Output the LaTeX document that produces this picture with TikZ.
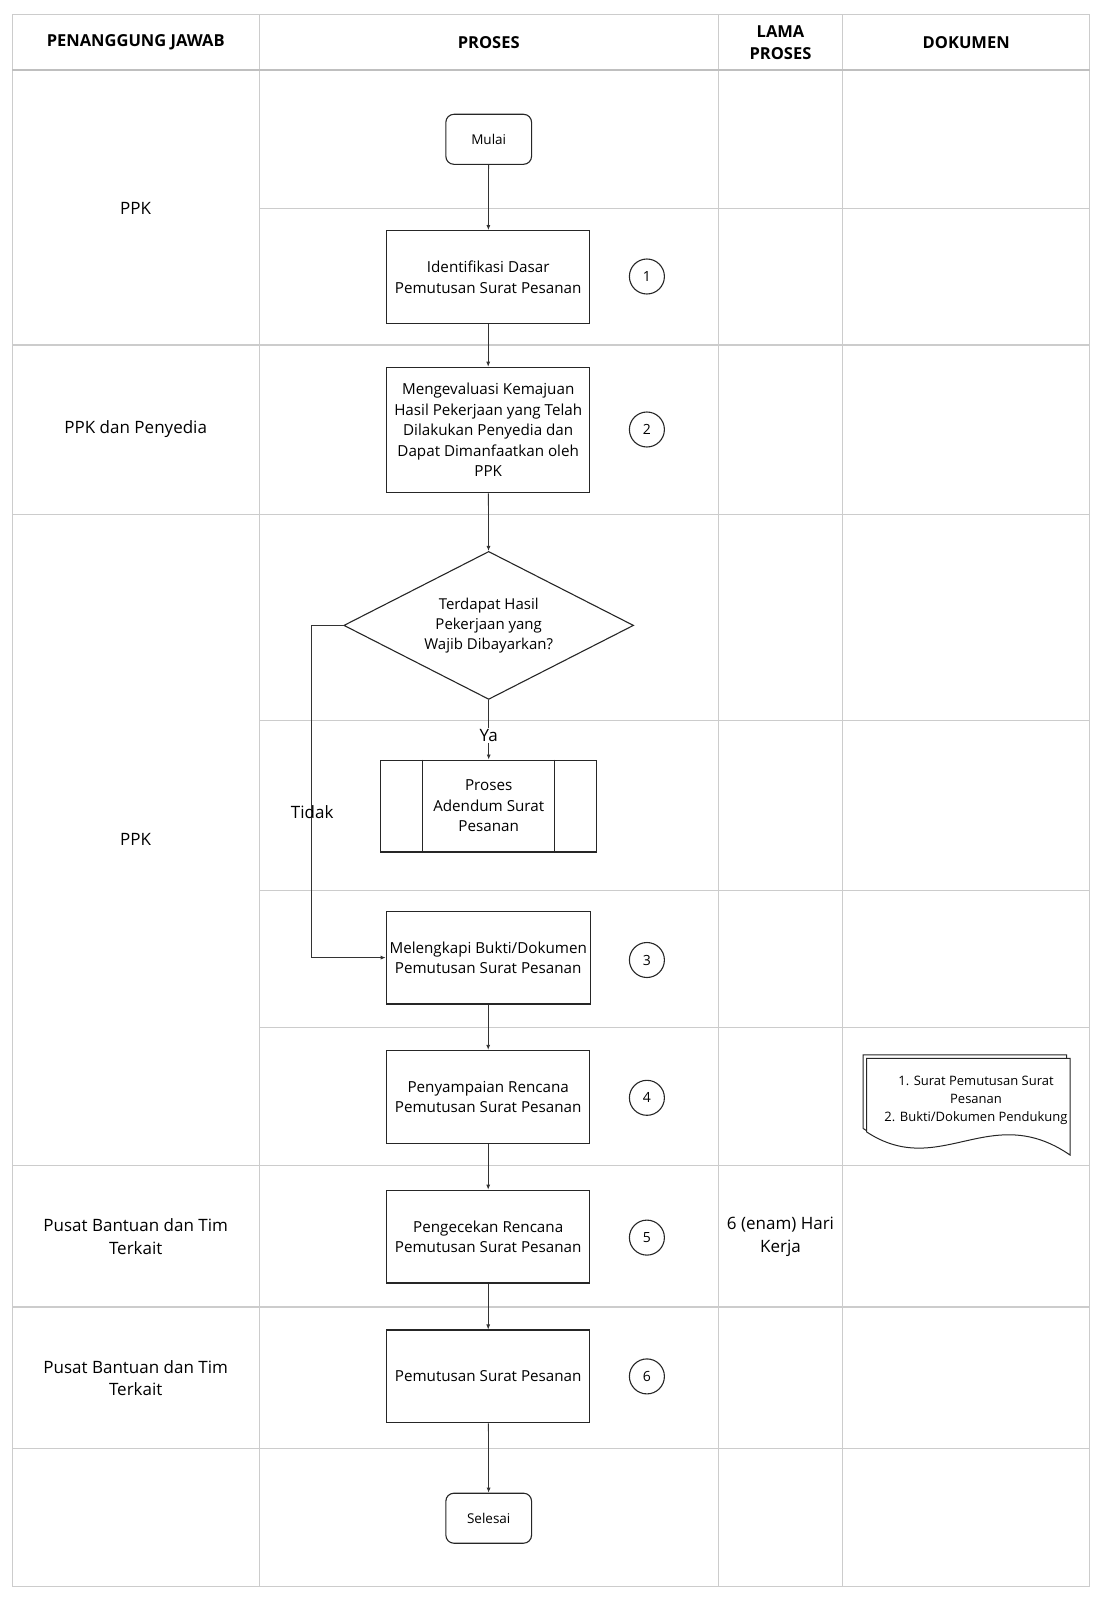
\documentclass[tikz,border=0pt]{standalone}
\usepackage{fontspec}
\setmainfont{Open Sans}
\usetikzlibrary{shapes.geometric, arrows.meta}

\begin{document}
\begin{tikzpicture}[x=1pt, y=-1pt, grid/.style={draw=black!20, line width=1.2pt}, head/.style={font=\fontsize{16.5}{22.4}\selectfont\bfseries, align=center}, lane/.style={font=\fontsize{17}{22.4}\selectfont, align=center}, proc/.style={draw=black!85, line width=1.1pt, minimum width=203pt, minimum height=92.8pt, align=center, font=\fontsize{15.2}{20.6}\selectfont}, term/.style={draw=black!85, line width=1.1pt, rounded corners=8, minimum width=85.7pt, minimum height=50pt, font=\fontsize{13.5}{16}\selectfont}, num/.style={draw=black!85, line width=1.1pt, circle, minimum size=35pt, inner sep=0pt, font=\fontsize{14}{16}\selectfont}, dec/.style={draw=black!85, line width=1.1pt, diamond, aspect=1.96, minimum width=289.8pt, minimum height=148pt, inner sep=0pt, align=center, font=\fontsize{15}{20}\selectfont}, n/.style={-{Latex[length=5pt, width=4pt]}, line width=0.8pt, draw=black!80}]
                \useasboundingbox (0,0) rectangle (1104,1600);
                % table
                \draw[grid] (12.2,14.3) rectangle (1089.7,1586.6);
                \foreach \x in {259.2, 718.3, 842.8}
                    \draw[grid] (\x,14.3) -- (\x,1586.6);
                \draw[grid, line width=2pt, draw=black!25] (12.2,70.4) -- (1089.7,70.4);
                \foreach \y in {344.9, 514.2, 1165.2, 1307, 1448.8}
                    \draw[grid] (12.2,\y) -- (1089.7,\y);
                \foreach \y in {208.1, 720.3, 890.7, 1027.4}
                    \draw[grid] (259.2,\y) -- (1089.7,\y);
                % header
                \node[head] (hpj) at (135.7,42.4) {PENANGGUNG JAWAB};
                \node[head] (hpr) at (488.7,42.4) {PROSES};
                \node[head] (hlp) at (780.5,42.4) {LAMA\\PROSES};
                \node[head] (hdk) at (966.2,42.4) {DOKUMEN};
                % lanes
                \node[lane] (l1) at (135.7,208.1) {PPK};
                \node[lane] (l2) at (135.7,429.5) {PPK dan Penyedia};
                \node[lane] (l3) at (135.7,839.7) {PPK};
                \node[lane] (l4) at (135.7,1236.6) {Pusat Bantuan dan Tim\\Terkait};
                \node[lane] (l5) at (135.7,1378.4) {Pusat Bantuan dan Tim\\Terkait};
                \node[lane] (lama) at (780.5,1236.6) {6 (enam) Hari\\Kerja};
                % nodes
                \node[term] (mulai) at (488.7,139.3) {Mulai};
                \node[proc] (p1) at (488.2,277) {Identifikasi Dasar\\Pemutusan Surat Pesanan};
                \node[proc, minimum height=125.5pt] (p2) at (488.2,430) {Mengevaluasi Kemajuan\\Hasil Pekerjaan yang Telah\\Dilakukan Penyedia dan\\Dapat Dimanfaatkan oleh\\PPK};
                \node[dec] (cek) at (488.7,625.4) {Terdapat Hasil\\Pekerjaan yang\\Wajib Dibayarkan?};
                \node[proc, minimum width=216.3pt, minimum height=91.9pt] (adendum) at (488.7,806) {Proses\\Adendum Surat\\Pesanan};
                \draw[draw=black!85, line width=1.1pt] (adendum.north west) ++(42.8,0) -- ++(0,91.9);
                \draw[draw=black!85, line width=1.1pt] (adendum.north east) ++(-42.8,0) -- ++(0,91.9);
                \node[proc] (p3) at (488.2,957.6) {Melengkapi Bukti/Dokumen\\Pemutusan Surat Pesanan};
                \node[proc] (p4) at (488.2,1096.8) {Penyampaian Rencana\\Pemutusan Surat Pesanan};
                \node[proc] (p5) at (488.2,1236.6) {Pengecekan Rencana\\Pemutusan Surat Pesanan};
                \node[proc] (p6) at (488.2,1376.4) {Pemutusan Surat Pesanan};
                \node[term] (selesai) at (488.7,1518.2) {Selesai};
                % numbers
                \node[num] (n1) at (646.9,276.5) {1};
                \node[num] (n2) at (646.9,429.5) {2};
                \node[num] (n3) at (646.9,960) {3};
                \node[num] (n4) at (646.9,1097.8) {4};
                \node[num] (n5) at (646.9,1237.6) {5};
                \node[num] (n6) at (646.9,1376.4) {6};
                % document
                \foreach \s in {-3.5, 0}
                    \draw[draw=black!85, line width=1pt, fill=white, shift={(\s,\s)}] (866.7,1132) -- (866.7,1058.3) -- (1070,1058.3) -- (1070,1155) .. controls (990,1100) and (940,1180) .. (866.7,1132);
                \node[font=\fontsize{13}{17.8}\selectfont, align=center] (doc) at (976,1100.5) {1. Surat Pemutusan Surat\\Pesanan\\2. Bukti/Dokumen Pendukung};
                % edges
                \draw[n] (mulai) -- (p1);
                \draw[n] (p1) -- (p2);
                \draw[n] (p2) -- (cek);
                \node[lane, fill=white, inner sep=1pt] (ya) at (488.7,735.6) {Ya};
                \draw[line width=0.8pt, draw=black!80] (cek.south) -- (ya);
                \draw[n] (ya) -- (adendum);
                \draw[n] (cek.west) -- ++(-31.6,0) |- (p3.west);
                \node[lane] (tidak) at (312.2,812.2) {Tidak};
                \draw[n] (p3) -- (p4);
                \draw[n] (p4) -- (p5);
                \draw[n] (p5) -- (p6);
                \draw[n] (p6) -- (selesai);
            \end{tikzpicture}
\end{document}
